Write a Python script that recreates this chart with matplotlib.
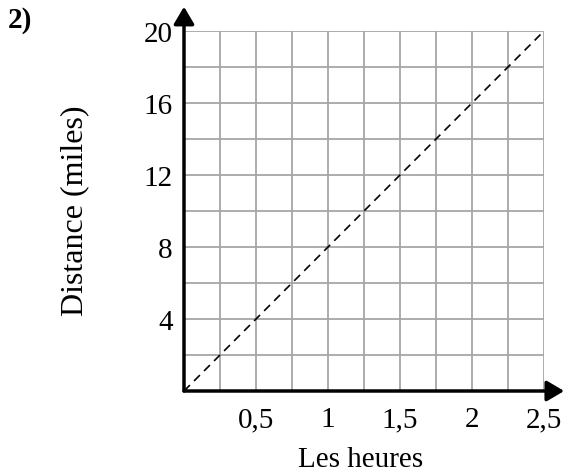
import matplotlib
matplotlib.use("Agg")
import matplotlib.pyplot as plt
import numpy as np

plt.rcParams['font.family'] = ['Liberation Serif', 'DejaVu Serif']

# data
hours = [0, 2.5]
miles = [0, 20]
xticks = [0.5, 1, 1.5, 2, 2.5]
xlabels = ['0,5', '1', '1,5', '2', '2,5']
yticks = [4, 8, 12, 16, 20]
ylabels = ['4', '8', '12', '16', '20']

W, H = 566, 477
fig = plt.figure(figsize=(W / 100, H / 100), dpi=100)
ax = fig.add_axes([184 / W, 85 / H, 360 / W, 360 / H])

# grid
for x in np.arange(0.25, 2.51, 0.25):
    ax.axvline(x, color='#a6a6a6', lw=1.3, zorder=1)
for y in np.arange(2, 20.1, 2):
    ax.axhline(y, color='#a6a6a6', lw=1.3, zorder=1)

ax.plot(hours, miles, color='black', lw=1.2, ls=(0, (5, 3.5)), zorder=2)

ax.set_xlim(0, 2.5)
ax.set_ylim(0, 20)
for s in ax.spines.values():
    s.set_visible(False)

# axes with arrows
arrow = dict(arrowstyle='-|>,head_length=1.05,head_width=0.62',
             color='black', lw=2.5, shrinkA=0, shrinkB=0)
ax.annotate('', xy=(2.64, 0), xytext=(0, 0), arrowprops=arrow,
            annotation_clip=False, zorder=3)
ax.annotate('', xy=(0, 21.35), xytext=(0, 0), arrowprops=arrow,
            annotation_clip=False, zorder=3)

fs = 21
ax.set_xticks(xticks)
ax.set_xticklabels(xlabels, fontsize=fs)
ax.set_yticks(yticks)
ax.set_yticklabels(ylabels, fontsize=fs)
ax.tick_params(axis='x', length=0, pad=11)
ax.tick_params(axis='y', length=0, pad=8)

fig.text(361 / W, 1 - 467 / H, 'Les heures', fontsize=fs, ha='center', va='baseline')
fig.text(75 / W, 1 - 211 / H, 'Distance (miles)', fontsize=23, rotation=90,
         ha='center', va='center')
fig.text(8 / W, 1 - 21 / H, '2)', fontsize=fs, fontweight='bold', va='center')

fig.savefig('out.png', dpi=100)
